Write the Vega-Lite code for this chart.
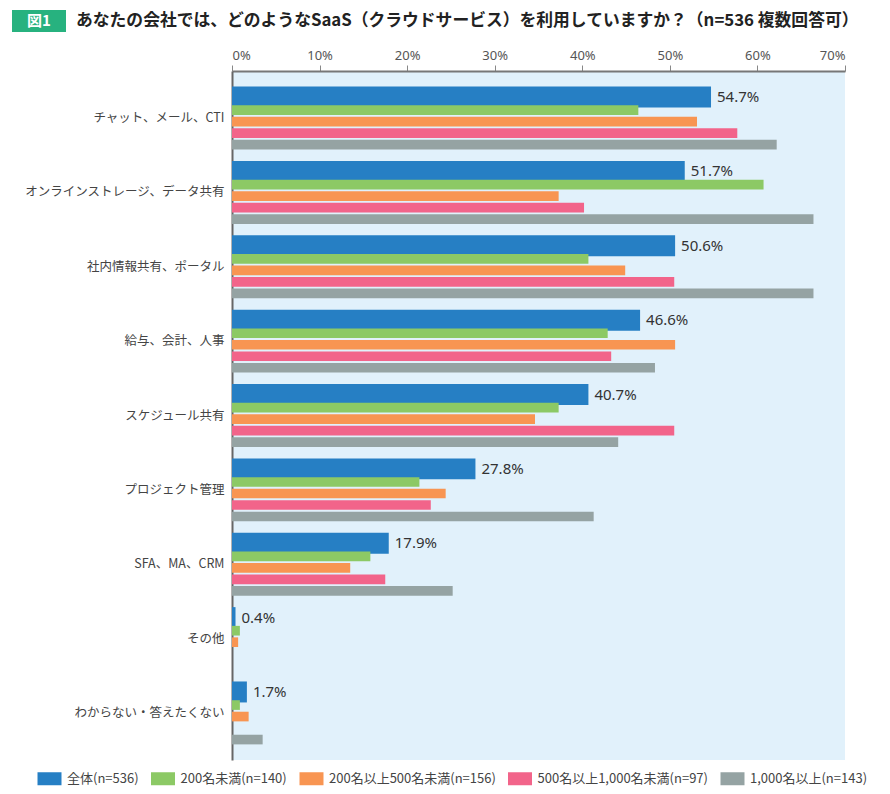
{
  "$schema": "https://vega.github.io/schema/vega-lite/v6.json",
  "padding": {"left": 12, "top": 10, "right": 10, "bottom": 5},
  "background": "white",
  "config": {"font": "Noto Sans CJK JP", "view": {"stroke": null}},
  "width": 613,
  "height": 689,
  "view": {"fill": "#e1f1fb", "stroke": null},
  "title": {
    "text": "あなたの会社では、どのようなSaaS（クラウドサービス）を利用していますか？（n=536 複数回答可）",
    "orient": "top",
    "anchor": "start",
    "frame": "group",
    "align": "left",
    "baseline": "middle",
    "dx": -156,
    "offset": -28,
    "fontSize": 16.8,
    "fontWeight": "bold",
    "color": "#222222",
    "font": "Noto Sans CJK JP"
  },
  "data": {
    "values": [
      {"cat": "チャット、メール、CTI", "series": "全体(n=536)", "value": 0.547},
      {"cat": "チャット、メール、CTI", "series": "200名未満(n=140)", "value": 0.464},
      {"cat": "チャット、メール、CTI", "series": "200名以上500名未満(n=156)", "value": 0.531},
      {"cat": "チャット、メール、CTI", "series": "500名以上1,000名未満(n=97)", "value": 0.577},
      {"cat": "チャット、メール、CTI", "series": "1,000名以上(n=143)", "value": 0.622},
      {"cat": "オンラインストレージ、データ共有", "series": "全体(n=536)", "value": 0.517},
      {"cat": "オンラインストレージ、データ共有", "series": "200名未満(n=140)", "value": 0.607},
      {"cat": "オンラインストレージ、データ共有", "series": "200名以上500名未満(n=156)", "value": 0.373},
      {"cat": "オンラインストレージ、データ共有", "series": "500名以上1,000名未満(n=97)", "value": 0.402},
      {"cat": "オンラインストレージ、データ共有", "series": "1,000名以上(n=143)", "value": 0.664},
      {"cat": "社内情報共有、ポータル", "series": "全体(n=536)", "value": 0.506},
      {"cat": "社内情報共有、ポータル", "series": "200名未満(n=140)", "value": 0.407},
      {"cat": "社内情報共有、ポータル", "series": "200名以上500名未満(n=156)", "value": 0.449},
      {"cat": "社内情報共有、ポータル", "series": "500名以上1,000名未満(n=97)", "value": 0.505},
      {"cat": "社内情報共有、ポータル", "series": "1,000名以上(n=143)", "value": 0.664},
      {"cat": "給与、会計、人事", "series": "全体(n=536)", "value": 0.466},
      {"cat": "給与、会計、人事", "series": "200名未満(n=140)", "value": 0.429},
      {"cat": "給与、会計、人事", "series": "200名以上500名未満(n=156)", "value": 0.506},
      {"cat": "給与、会計、人事", "series": "500名以上1,000名未満(n=97)", "value": 0.433},
      {"cat": "給与、会計、人事", "series": "1,000名以上(n=143)", "value": 0.483},
      {"cat": "スケジュール共有", "series": "全体(n=536)", "value": 0.407},
      {"cat": "スケジュール共有", "series": "200名未満(n=140)", "value": 0.373},
      {"cat": "スケジュール共有", "series": "200名以上500名未満(n=156)", "value": 0.346},
      {"cat": "スケジュール共有", "series": "500名以上1,000名未満(n=97)", "value": 0.505},
      {"cat": "スケジュール共有", "series": "1,000名以上(n=143)", "value": 0.441},
      {"cat": "プロジェクト管理", "series": "全体(n=536)", "value": 0.278},
      {"cat": "プロジェクト管理", "series": "200名未満(n=140)", "value": 0.214},
      {"cat": "プロジェクト管理", "series": "200名以上500名未満(n=156)", "value": 0.244},
      {"cat": "プロジェクト管理", "series": "500名以上1,000名未満(n=97)", "value": 0.227},
      {"cat": "プロジェクト管理", "series": "1,000名以上(n=143)", "value": 0.413},
      {"cat": "SFA、MA、CRM", "series": "全体(n=536)", "value": 0.179},
      {"cat": "SFA、MA、CRM", "series": "200名未満(n=140)", "value": 0.158},
      {"cat": "SFA、MA、CRM", "series": "200名以上500名未満(n=156)", "value": 0.135},
      {"cat": "SFA、MA、CRM", "series": "500名以上1,000名未満(n=97)", "value": 0.175},
      {"cat": "SFA、MA、CRM", "series": "1,000名以上(n=143)", "value": 0.252},
      {"cat": "その他", "series": "全体(n=536)", "value": 0.004},
      {"cat": "その他", "series": "200名未満(n=140)", "value": 0.009},
      {"cat": "その他", "series": "200名以上500名未満(n=156)", "value": 0.007},
      {"cat": "その他", "series": "500名以上1,000名未満(n=97)", "value": 0},
      {"cat": "その他", "series": "1,000名以上(n=143)", "value": 0},
      {"cat": "わからない・答えたくない", "series": "全体(n=536)", "value": 0.017},
      {"cat": "わからない・答えたくない", "series": "200名未満(n=140)", "value": 0.009},
      {"cat": "わからない・答えたくない", "series": "200名以上500名未満(n=156)", "value": 0.019},
      {"cat": "わからない・答えたくない", "series": "500名以上1,000名未満(n=97)", "value": 0},
      {"cat": "わからない・答えたくない", "series": "1,000名以上(n=143)", "value": 0.035}
    ]
  },
  "encoding": {
    "y": {
      "field": "cat",
      "type": "nominal",
      "sort": ["チャット、メール、CTI", "オンラインストレージ、データ共有", "社内情報共有、ポータル", "給与、会計、人事", "スケジュール共有", "プロジェクト管理", "SFA、MA、CRM", "その他", "わからない・答えたくない"],
      "scale": {"paddingInner": 0.154, "paddingOuter": 0.21},
      "axis": {"title": null, "labelFontSize": 12.5, "labelColor": "#444444", "ticks": false, "domainColor": "#666666", "domainWidth": 2, "labelPadding": 8, "labelLimit": 0, "labelFont": "Noto Sans CJK JP"}
    },
    "x": {
      "field": "value",
      "type": "quantitative",
      "scale": {"domain": [0, 0.7], "nice": false},
      "axis": {"orient": "top", "title": null, "values": [0, 0.1, 0.2, 0.3, 0.4, 0.5, 0.6, 0.7], "format": ".0%", "labelFontSize": 13, "labelColor": "#555555", "tickColor": "#888888", "tickSize": 6, "domainColor": "#777777", "domainWidth": 2, "grid": false, "labelPadding": 3, "labelFont": "Noto Sans"}
    },
    "color": {
      "field": "series",
      "type": "nominal",
      "scale": {
        "domain": ["全体(n=536)", "200名未満(n=140)", "200名以上500名未満(n=156)", "500名以上1,000名未満(n=97)", "1,000名以上(n=143)"],
        "range": ["#267fc4", "#8cc965", "#f89552", "#f2648a", "#95a3a3"]
      },
      "legend": {
        "title": null,
        "orient": "none",
        "legendX": -189,
        "legendY": 701,
        "direction": "horizontal",
        "columns": 5,
        "symbolType": "M -1.846 -1 H 1.846 V 1 H -1.846 Z",
        "symbolSize": 169,
        "symbolStrokeWidth": 0,
        "symbolOpacity": 1,
        "labelFontSize": 13,
        "labelColor": "#444444",
        "labelFont": "Noto Sans CJK JP",
        "labelLimit": 0,
        "labelOffset": 11,
        "columnPadding": 11.5
      }
    }
  },
  "layer": [
    {
      "transform": [{"filter": "datum.series === '全体(n=536)'"}],
      "encoding": {
        "yOffset": {"field": "series", "type": "nominal", "scale": {"domain": ["全体(n=536)"], "paddingInner": 0, "paddingOuter": 1.318, "align": 0}}
      },
      "layer": [
        {"mark": {"type": "bar"}},
        {
          "mark": {"type": "text", "align": "left", "dx": 6, "baseline": "middle", "fontSize": 15, "font": "Noto Sans", "fontWeight": "normal"},
          "encoding": {
            "text": {"field": "value", "type": "quantitative", "format": ".1%"},
            "color": {"value": "#333333"}
          }
        },
        {
          "mark": {"type": "text", "fontSize": 22, "color": "#27b27f"},
          "encoding": {
            "text": {"value": ""},
            "color": {"value": "#27b27f"},
            "opacity": {
              "field": "cat",
              "type": "ordinal",
              "scale": {"range": [1, 1]},
              "legend": {
                "title": null,
                "orient": "none",
                "legendX": -220,
                "legendY": -61,
                "values": ["チャット、メール、CTI"],
                "labelExpr": "'図1'",
                "symbolType": "M -1 -1 H 3.909 V 1 H -1 Z",
                "symbolSize": 484,
                "symbolFillColor": "#27b27f",
                "symbolStrokeWidth": 0,
                "symbolOpacity": 1,
                "labelColor": "#ffffff",
                "labelFontSize": 15,
                "labelFontWeight": "bold",
                "labelFont": "Noto Sans CJK JP",
                "labelAlign": "center",
                "labelOffset": 5,
                "padding": 0
              }
            }
          }
        }
      ]
    },
    {
      "transform": [{"filter": "datum.series !== '全体(n=536)'"}],
      "encoding": {
        "yOffset": {"field": "series", "type": "nominal", "scale": {"domain": ["200名未満(n=140)", "200名以上500名未満(n=156)", "500名以上1,000名未満(n=97)", "1,000名以上(n=143)"], "paddingInner": 0.16, "paddingOuter": 0.815, "align": 1}}
      },
      "mark": {"type": "bar"}
    }
  ],
  "resolve": {"scale": {"yOffset": "independent"}}
}
